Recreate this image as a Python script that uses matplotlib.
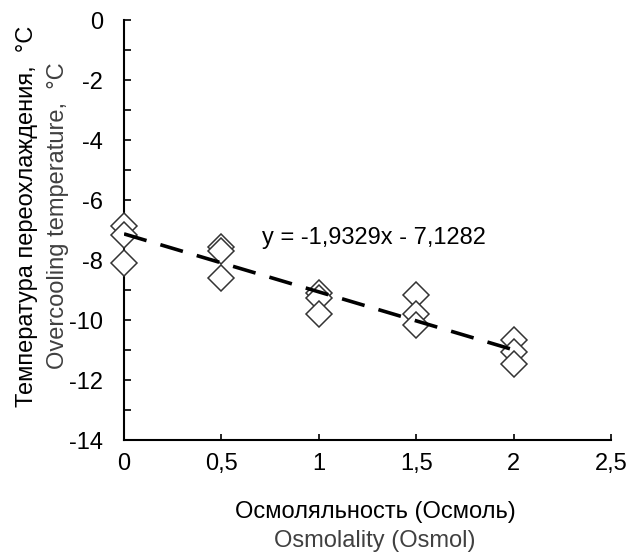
import matplotlib
matplotlib.use("Agg")
import matplotlib.pyplot as plt
import numpy as np
from matplotlib.ticker import MultipleLocator, FuncFormatter

plt.rcParams['font.family'] = ['Liberation Sans', 'DejaVu Sans']

# Data
osmolality = [0, 0, 0, 0.5, 0.5, 0.5, 1, 1, 1, 1.5, 1.5, 1.5, 2, 2, 2]
temperature = [-6.85, -7.15, -8.1,
               -7.55, -7.7, -8.6,
               -9.1, -9.25, -9.8,
               -9.15, -9.8, -10.15,
               -10.65, -11.05, -11.45]
slope = -1.9329
intercept = -7.1282
equation = "y = -1,9329x - 7,1282"

fig = plt.figure(figsize=(6.28, 5.57), dpi=100)
ax = fig.add_axes([0.1975, 0.21, 0.7755, 0.754])

ax.plot(osmolality, temperature, linestyle='none', marker='D', markersize=13.5,
        markerfacecolor='white', markeredgecolor='#333333', markeredgewidth=1.1,
        zorder=3, clip_on=False)

xf = np.array([min(osmolality), max(osmolality)])
line, = ax.plot(xf, slope * xf + intercept, color='black', lw=2.6, zorder=4)
line.set_dashes([6.5, 4])

ax.text(0.71, -7.27, equation, fontsize=17, ha='left', va='center')

ax.set_xlim(0, 2.5)
ax.set_ylim(-14, 0)
ax.xaxis.set_major_locator(MultipleLocator(0.5))
ax.yaxis.set_major_locator(MultipleLocator(2))
ax.yaxis.set_minor_locator(MultipleLocator(1))

def fmt(v, pos):
    s = ('%g' % v).replace('.', ',')
    return s
ax.xaxis.set_major_formatter(FuncFormatter(fmt))
ax.yaxis.set_major_formatter(FuncFormatter(fmt))

for s in ['top', 'right']:
    ax.spines[s].set_visible(False)
for s in ['left', 'bottom']:
    ax.spines[s].set_linewidth(1.5)

ax.tick_params(axis='both', which='both', direction='in', width=1.2, labelsize=17)
ax.tick_params(axis='y', which='major', length=5, pad=15)
ax.tick_params(axis='y', which='minor', length=5)
ax.tick_params(axis='x', which='major', length=4, pad=9)

fig.text(0.597, 1 - 512 / 557, "Осмоляльность (Осмоль)", fontsize=17,
         ha='center', va='center', color='black')
fig.text(0.597, 1 - 541 / 557, "Osmolality (Osmol)", fontsize=17,
         ha='center', va='center', color='#404040')
fig.text(27 / 628, 1 - 216 / 557, "Температура переохлаждения,  °C", fontsize=17,
         ha='center', va='center', rotation=90, color='black')
fig.text(58 / 628, 1 - 216 / 557, "Overcooling temperature,  °C", fontsize=17,
         ha='center', va='center', rotation=90, color='#404040')

fig.savefig("out.png", dpi=100)
